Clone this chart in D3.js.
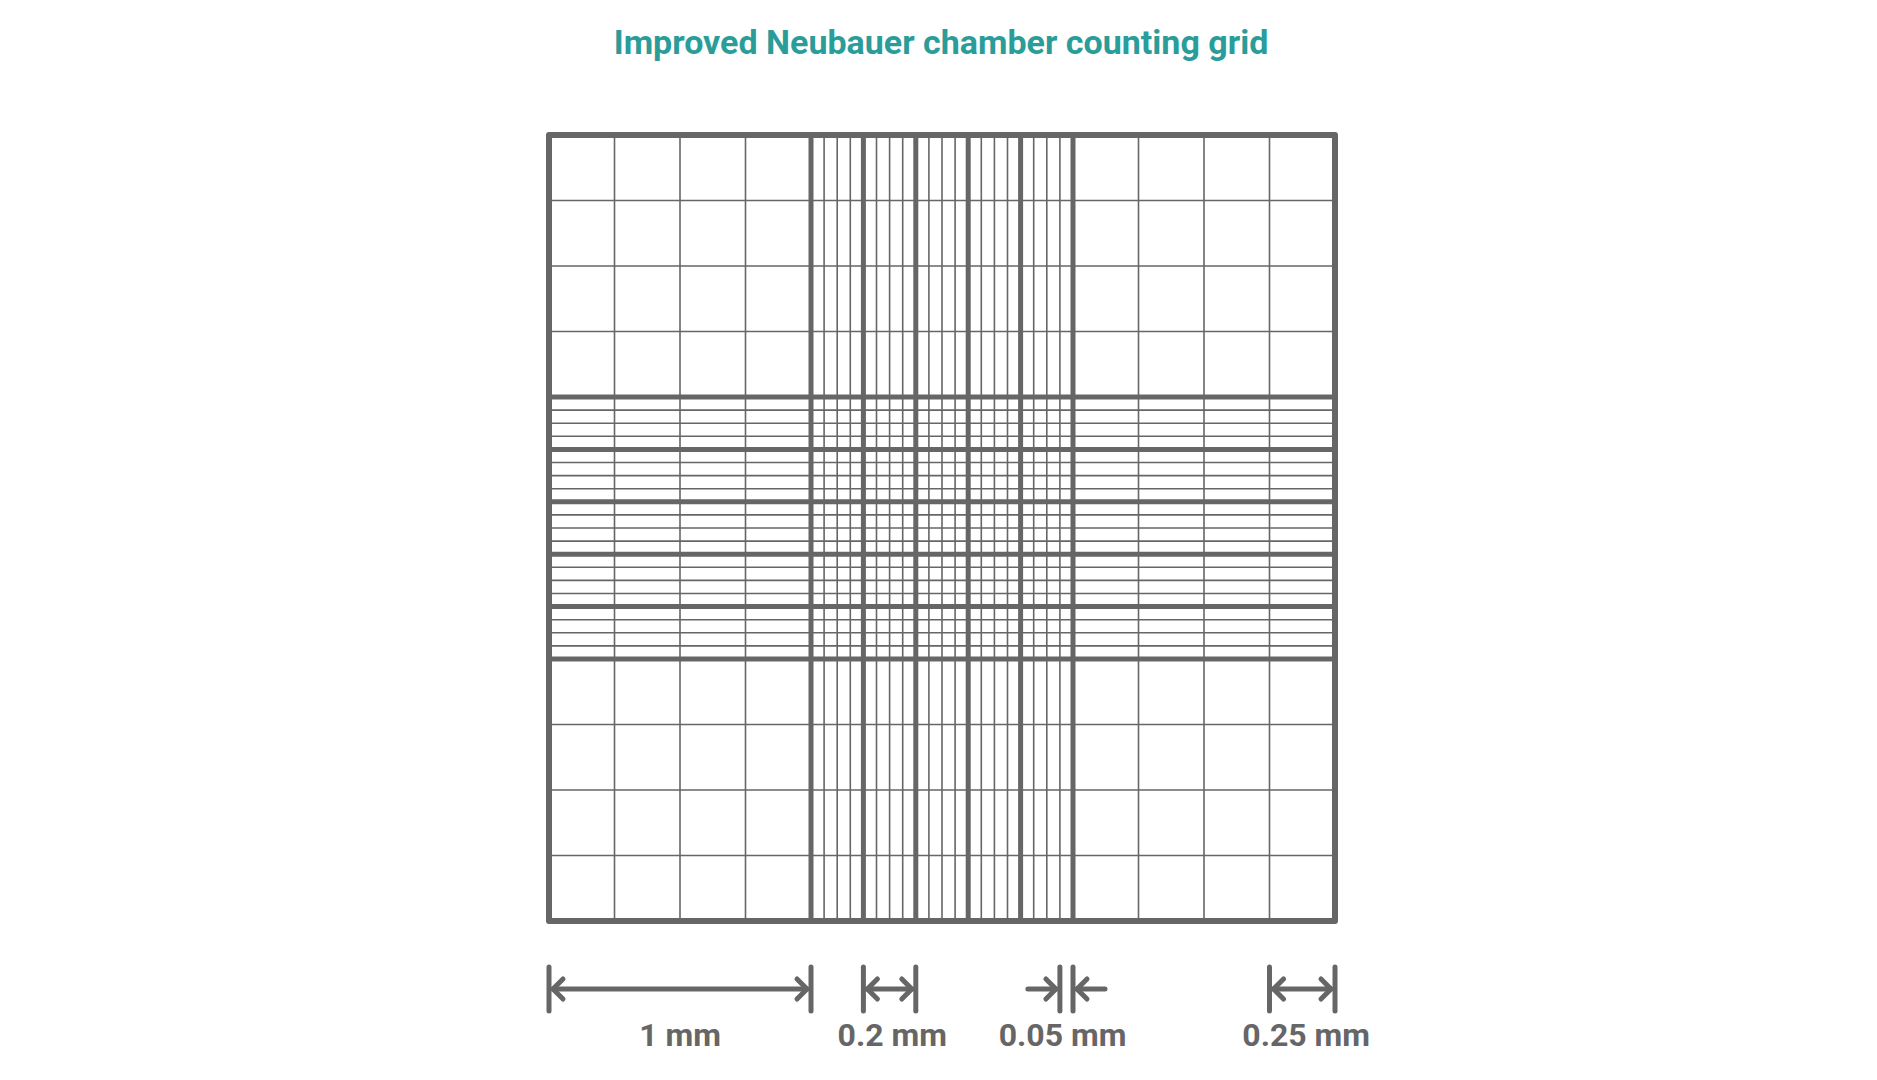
<!DOCTYPE html>
<html><head><meta charset="utf-8">
<script src="https://cdn.jsdelivr.net/npm/d3@7"></script>
<style>body{margin:0;background:#fff}</style>
</head><body>
<script>
// grid lines in mm (3 x 3 mm grid)
var thickLines = [0, 1, 1.2, 1.4, 1.6, 1.8, 2, 3];
var quarterLines = [0.25, 0.5, 0.75, 2.25, 2.5, 2.75];
var fineLines = [1.05, 1.1, 1.15, 1.25, 1.3, 1.35, 1.45, 1.5, 1.55,
                 1.65, 1.7, 1.75, 1.85, 1.9, 1.95];
// dimension markers: from, to (mm), label, label centre (mm), inward arrows?
var dims = [
  {from: 0, to: 1, label: "1 mm", lx: 0.5, inward: false},
  {from: 1.2, to: 1.4, label: "0.2 mm", lx: 1.31, inward: false},
  {from: 1.95, to: 2.0, label: "0.05 mm", lx: 1.96, inward: true},
  {from: 2.75, to: 3, label: "0.25 mm", lx: 2.89, inward: false}
];

var W = 1877, H = 1080, col = "#666666";
var svg = d3.select("body").append("svg").attr("width", W).attr("height", H);
var x = d3.scaleLinear().domain([0, 3]).range([549, 1335]);
var y = d3.scaleLinear().domain([0, 3]).range([135, 921]);

svg.append("text").attr("x", 941).attr("y", 54).attr("text-anchor", "middle")
  .attr("font-family", "'Liberation Sans Narrow','Roboto',sans-serif")
  .attr("font-weight", "bold").attr("font-size", 34).attr("fill", "#2a9d9a")
  .text("Improved Neubauer chamber counting grid");

var g = svg.append("g").attr("stroke", col).attr("fill", "none");

function draw(vals, w) {
  g.selectAll(null).data(vals).enter().append("line")
    .attr("x1", function(d) { return x(d); }).attr("x2", function(d) { return x(d); })
    .attr("y1", y(0)).attr("y2", y(3)).attr("stroke-width", w);
  g.selectAll(null).data(vals).enter().append("line")
    .attr("y1", function(d) { return y(d); }).attr("y2", function(d) { return y(d); })
    .attr("x1", x(0)).attr("x2", x(3)).attr("stroke-width", w);
}
draw(fineLines, 1.6);
draw(quarterLines, 1.6);
draw(thickLines.slice(1, -1), 5);
g.append("rect").attr("x", x(0)).attr("y", y(0))
  .attr("width", x(3) - x(0)).attr("height", y(3) - y(0))
  .attr("stroke-width", 6).attr("stroke-linejoin", "round");

// dimension markers
var dy = 989, dg = svg.append("g").attr("stroke", col).attr("fill", "none")
  .attr("stroke-width", 5).attr("stroke-linecap", "round");
dims.forEach(function(d) {
  var a = x(d.from), b = x(d.to);
  dg.append("line").attr("x1", a).attr("x2", a).attr("y1", dy - 22).attr("y2", dy + 22);
  dg.append("line").attr("x1", b).attr("x2", b).attr("y1", dy - 22).attr("y2", dy + 22);
  if (!d.inward) {
    dg.append("line").attr("x1", a + 4).attr("x2", b - 4).attr("y1", dy).attr("y2", dy);
    dg.append("path").attr("d", "M" + (a + 14) + "," + (dy - 10) + "L" + (a + 4) + "," + dy + "L" + (a + 14) + "," + (dy + 10));
    dg.append("path").attr("d", "M" + (b - 14) + "," + (dy - 10) + "L" + (b - 4) + "," + dy + "L" + (b - 14) + "," + (dy + 10));
  } else {
    dg.append("line").attr("x1", a - 32).attr("x2", a - 4).attr("y1", dy).attr("y2", dy);
    dg.append("line").attr("x1", b + 4).attr("x2", b + 32).attr("y1", dy).attr("y2", dy);
    dg.append("path").attr("d", "M" + (a - 14) + "," + (dy - 10) + "L" + (a - 4) + "," + dy + "L" + (a - 14) + "," + (dy + 10));
    dg.append("path").attr("d", "M" + (b + 14) + "," + (dy - 10) + "L" + (b + 4) + "," + dy + "L" + (b + 14) + "," + (dy + 10));
  }
  svg.append("text").attr("x", x(d.lx)).attr("y", 1046).attr("text-anchor", "middle")
    .attr("font-family", "'Liberation Sans Narrow','Roboto',sans-serif")
    .attr("font-weight", "bold").attr("font-size", 32).attr("fill", col)
    .text(d.label);
});
</script>
</body></html>
